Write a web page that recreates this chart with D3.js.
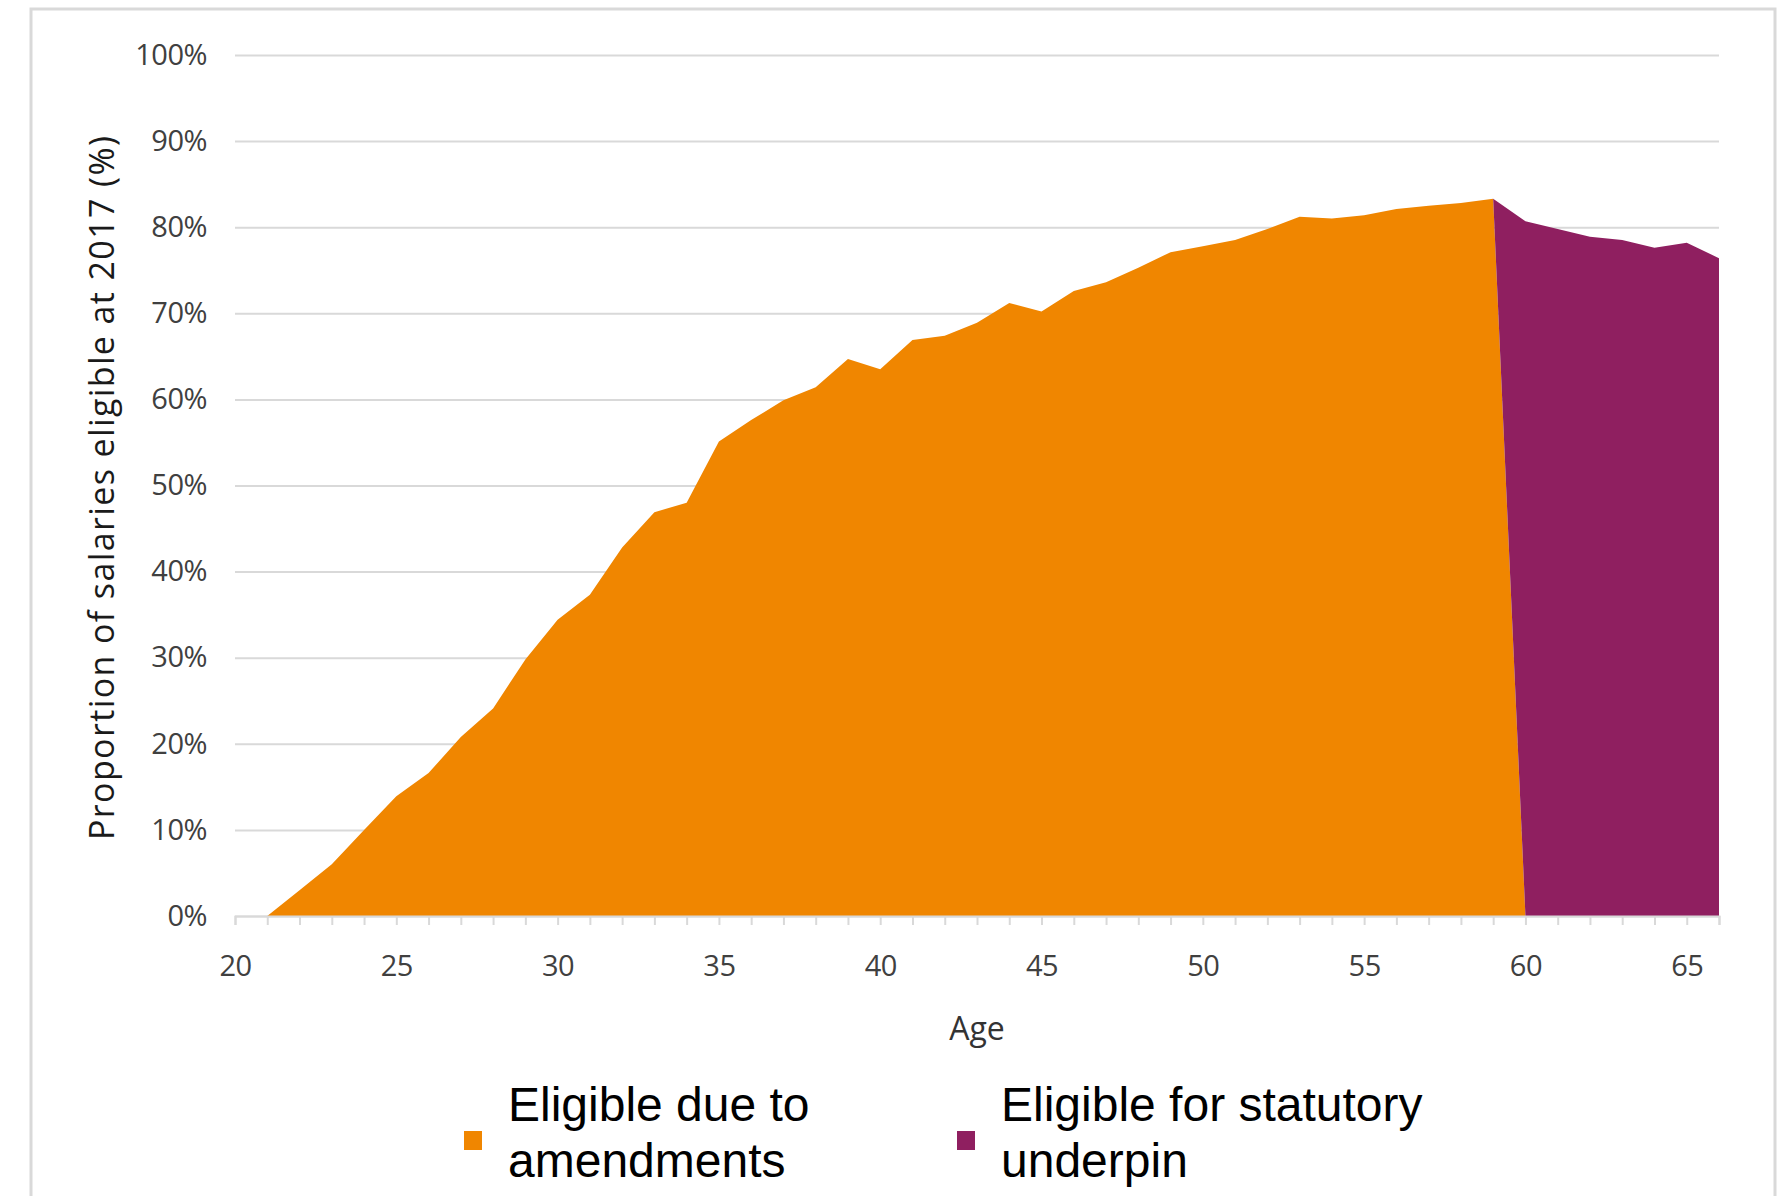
<!DOCTYPE html>
<html>
<head>
<meta charset="utf-8">
<script src="https://cdn.jsdelivr.net/npm/d3@7"></script>
<style>
  body { margin: 0; background: #fff; }
  .tick text { font-family: "Open Sans", sans-serif; fill: #404040; }
</style>
</head>
<body>
<div id="chart"></div>
<script>
// data
let ages = [21, 22, 23, 24, 25, 26, 27, 28, 29, 30, 31, 32, 33, 34, 35, 36, 37, 38, 39, 40,
    41, 42, 43, 44, 45, 46, 47, 48, 49, 50, 51, 52, 53, 54, 55, 56, 57, 58, 59, 60,
    61, 62, 63, 64, 65, 66];

let amendments = [0, 3.0, 6.0, 10.0, 13.9, 16.6, 20.8, 24.1, 29.8, 34.4, 37.3, 42.8, 46.9, 48.0, 55.1, 57.6, 59.9, 61.4, 64.7, 63.5,
    66.9, 67.4, 68.9, 71.2, 70.2, 72.6, 73.6, 75.3, 77.1, 77.8, 78.5, 79.8, 81.2, 81.0, 81.4, 82.1, 82.5, 82.8, 83.3, 0,
    0, 0, 0, 0, 0, 0];

let underpin = [0, 0, 0, 0, 0, 0, 0, 0, 0, 0, 0, 0, 0, 0, 0, 0, 0, 0, 0, 0,
    0, 0, 0, 0, 0, 0, 0, 0, 0, 0, 0, 0, 0, 0, 0, 0, 0, 0, 0, 80.7,
    79.8, 78.9, 78.5, 77.6, 78.2, 76.4];

let xTicks = [20, 25, 30, 35, 40, 45, 50, 55, 60, 65];
let yTicks = [0, 10, 20, 30, 40, 50, 60, 70, 80, 90, 100];

let seriesNames = ["Eligible due to amendments", "Eligible for statutory underpin"];
let legendLines = [["Eligible due to", "amendments"], ["Eligible for statutory", "underpin"]];
let colors = ["#F08600", "#8F1F60"];

let svgWidth = 1782;
let svgHeight = 1196;

let svg = d3.select("#chart")
    .append("svg")
    .attr("width", svgWidth)
    .attr("height", svgHeight);

// outer frame (bottom edge runs off the picture)
svg.append("rect")
    .attr("x", 31)
    .attr("y", 9)
    .attr("width", 1744)
    .attr("height", 1220)
    .attr("fill", "none")
    .attr("stroke", "#d9d9d9")
    .attr("stroke-width", 3);

let xScale = d3.scaleLinear().domain([20, 66]).range([235, 1719]);
let yScale = d3.scaleLinear().domain([0, 100]).range([916, 55]);

// gridlines + y labels
let yAxis = svg.append("g")
    .attr("transform", "translate(235,0)")
    .call(d3.axisLeft(yScale)
        .tickValues(yTicks)
        .tickSize(-(1719 - 235))
        .tickPadding(28)
        .tickFormat(d => d + "%"));
yAxis.select(".domain").remove();
yAxis.selectAll(".tick line").attr("stroke", "#d9d9d9").attr("stroke-width", 2);
yAxis.selectAll(".tick text").attr("font-size", 29).attr("letter-spacing", "-0.5px");

// stacked areas
let table = ages.map((a, i) => ({ age: a, amendments: amendments[i], underpin: underpin[i] }));
let stack = d3.stack().keys(["amendments", "underpin"]);
let layers = stack(table);

let area = d3.area()
    .x(d => xScale(d.data.age))
    .y0(d => yScale(d[0]))
    .y1(d => yScale(d[1]));

svg.append("g")
    .selectAll("path")
    .data(layers)
    .enter()
    .append("path")
    .attr("d", area)
    .attr("fill", (d, i) => colors[i]);

// x axis with year ticks
let xAxis = svg.append("g")
    .attr("transform", "translate(0,916)")
    .call(d3.axisBottom(xScale)
        .tickValues(d3.range(20, 67))
        .tickSize(9)
        .tickPadding(30)
        .tickFormat(d => xTicks.includes(d) ? d : ""));
xAxis.select(".domain").attr("stroke", "#d9d9d9").attr("stroke-width", 2);
xAxis.selectAll(".tick line").attr("stroke", "#d9d9d9").attr("stroke-width", 2);
xAxis.selectAll(".tick text").attr("font-size", 29).attr("letter-spacing", "-0.5px");

// axis titles
svg.append("text")
    .attr("x", xScale(43))
    .attr("y", 1040)
    .attr("text-anchor", "middle")
    .attr("font-family", "Open Sans, sans-serif")
    .attr("font-size", 32)
    .attr("fill", "#333")
    .text("Age");

svg.append("text")
    .attr("transform", "translate(114,488) rotate(-90)")
    .attr("text-anchor", "middle")
    .attr("font-family", "Open Sans, sans-serif")
    .attr("font-size", 34)
    .attr("font-weight", 500)
    .attr("fill", "#1a1a1a")
    .attr("textLength", 704)
    .attr("lengthAdjust", "spacing")
    .text("Proportion of salaries eligible at 2017 (%)");

// legend
let legendX = [464, 957];
let legend = svg.append("g");
seriesNames.forEach(function(name, i) {
    let g = legend.append("g").attr("transform", `translate(${legendX[i]},0)`);
    g.append("rect")
        .attr("x", 0)
        .attr("y", 1131)
        .attr("width", 18)
        .attr("height", 19)
        .attr("fill", colors[i]);
    let t = g.append("text")
        .attr("font-family", "Liberation Sans, Arial, sans-serif")
        .attr("font-size", 48)
        .attr("fill", "#000");
    legendLines[i].forEach(function(line, j) {
        t.append("tspan")
            .attr("x", 44)
            .attr("y", 1121 + j * 56)
            .text(line);
    });
});
</script>
</body>
</html>
